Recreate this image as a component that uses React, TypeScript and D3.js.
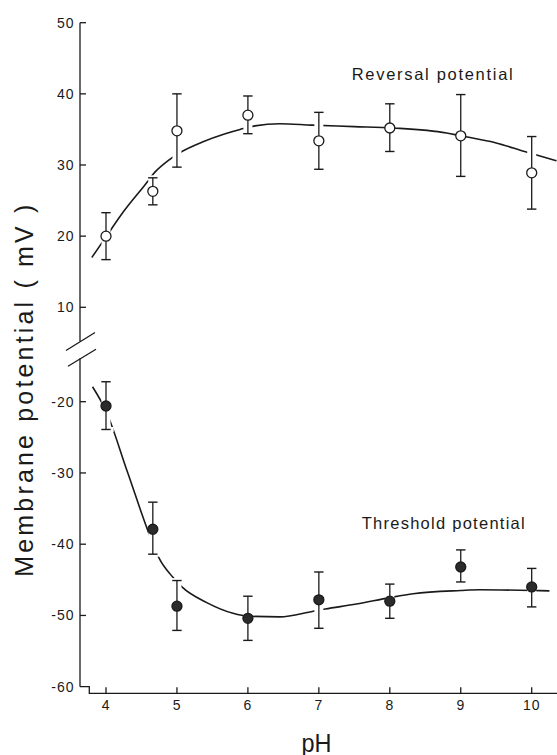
import React from "react";
import * as d3 from "d3";

// ---- data ----
const phPoints = [4, 4.66, 5, 6, 7, 8, 9, 10];

const reversal = [20.0, 26.3, 34.8, 37.0, 33.4, 35.2, 34.1, 28.9];
const reversalHi = [23.3, 28.2, 40.0, 39.7, 37.4, 38.6, 39.9, 34.0];
const reversalLo = [16.7, 24.4, 29.7, 34.4, 29.4, 31.9, 28.4, 23.8];

const threshold = [-20.6, -37.9, -48.7, -50.4, -47.8, -48.0, -43.2, -46.0];
const thresholdHi = [-17.2, -34.1, -45.1, -47.3, -43.9, -45.6, -40.8, -43.4];
const thresholdLo = [-23.9, -41.4, -52.1, -53.5, -51.8, -50.4, -45.3, -48.8];

// fitted curves
const reversalFitPh = [3.8, 4.0, 4.25, 4.54, 4.7, 4.88, 5.07, 5.35, 5.68, 5.89, 6.1, 6.45, 6.9, 7.5, 8.05, 8.8, 9.0, 9.5, 9.9, 10.35];
const reversalFit = [17.0, 19.9, 23.5, 27.1, 29.1, 30.65, 31.9, 33.2, 34.4, 35.0, 35.5, 35.8, 35.6, 35.4, 35.2, 34.5, 34.1, 33.1, 31.9, 30.6];

const thresholdFitPh = [3.81, 4.0, 4.3, 4.64, 4.75, 4.94, 5.07, 5.42, 5.79, 6.0, 6.45, 6.92, 7.09, 7.53, 8.0, 8.33, 9.0, 9.27, 10.02, 10.25];
const thresholdFit = [-17.9, -21.3, -29.8, -39.4, -42.0, -44.6, -46.0, -48.2, -49.7, -50.1, -50.2, -49.4, -49.1, -48.4, -47.5, -46.95, -46.5, -46.4, -46.5, -46.55];

const xTicks = [4, 5, 6, 7, 8, 9, 10];
const yTicksTop = [10, 20, 30, 40, 50];
const yTicksBottom = [-20, -30, -40, -50, -60];

const xLabel = "pH";
const yLabel = "Membrane potential ( mV )";
const reversalLabel = "Reversal potential";
const thresholdLabel = "Threshold potential";

export default function App() {
  const W = 557;
  const H = 755;
  const FONT = "'Liberation Sans', Arial, Helvetica, sans-serif";
  const ink = "#1a1a1a";

  const x = d3.scaleLinear().domain([4, 10]).range([106, 531.7]);
  const yTop = d3.scaleLinear().domain([10, 50]).range([307.3, 22.7]);
  const yBot = d3.scaleLinear().domain([-60, -20]).range([686.7, 401.7]);

  const axisX = 80;
  const xAxisY = 693.3;
  const xAxisStart = 89.3;
  const topBreak = yTop(5.2);
  const botBreak = yBot(-13.9);

  const line = (yScale: d3.ScaleLinear<number, number>) =>
    d3
      .line<[number, number]>()
      .x((d) => x(d[0]))
      .y((d) => yScale(d[1]))
      .curve(d3.curveMonotoneX);

  const revPath = line(yTop)(reversalFitPh.map((p, i) => [p, reversalFit[i]]) as [number, number][]) || "";
  const thrPath = line(yBot)(thresholdFitPh.map((p, i) => [p, thresholdFit[i]]) as [number, number][]) || "";

  const cap = 4.7;

  const errorBars = (
    vals: number[],
    hi: number[],
    lo: number[],
    yScale: d3.ScaleLinear<number, number>,
    filled: boolean,
    key: string
  ) =>
    phPoints.map((p, i) => {
      const cx = x(p);
      const yh = yScale(hi[i]);
      const yl = yScale(lo[i]);
      const cy = yScale(vals[i]);
      return (
        <g key={key + i}>
          {/* white halo so the fitted curve breaks around the bars */}
          <line x1={cx} x2={cx} y1={yh} y2={yl} stroke="#fff" strokeWidth={9} />
          <line x1={cx - cap - 3} x2={cx + cap + 3} y1={yh} y2={yh} stroke="#fff" strokeWidth={5} />
          <line x1={cx - cap - 3} x2={cx + cap + 3} y1={yl} y2={yl} stroke="#fff" strokeWidth={5} />
          <line x1={cx} x2={cx} y1={yh} y2={yl} stroke={ink} strokeWidth={1.3} />
          <line x1={cx - cap} x2={cx + cap} y1={yh} y2={yh} stroke={ink} strokeWidth={1.4} />
          <line x1={cx - cap} x2={cx + cap} y1={yl} y2={yl} stroke={ink} strokeWidth={1.4} />
          <circle
            cx={cx}
            cy={cy}
            r={5}
            fill={filled ? "#2b2b2b" : "#fff"}
            stroke={ink}
            strokeWidth={1.3}
          />
        </g>
      );
    });

  return (
    <svg
      width={W}
      height={H}
      viewBox={`0 0 ${W} ${H}`}
      style={{ position: "absolute", left: 0, top: 0, background: "#fff" }}
      fontFamily={FONT}
    >
      <rect x={0} y={0} width={W} height={H} fill="#fff" />

      {/* y axis (broken) */}
      <line x1={axisX} x2={axisX} y1={yTop(50)} y2={topBreak} stroke={ink} strokeWidth={1.3} />
      <line x1={axisX} x2={axisX} y1={botBreak} y2={yBot(-60)} stroke={ink} strokeWidth={1.3} />
      <line x1={axisX - 14} y1={topBreak + 9} x2={axisX + 15} y2={topBreak - 9} stroke={ink} strokeWidth={1.3} />
      <line x1={axisX - 12} y1={botBreak + 8} x2={axisX + 16} y2={botBreak - 9} stroke={ink} strokeWidth={1.3} />

      {yTicksTop.map((t) => (
        <g key={"yt" + t}>
          <line x1={axisX} x2={axisX + 6} y1={yTop(t)} y2={yTop(t)} stroke={ink} strokeWidth={1.3} />
          <text x={74.5} y={yTop(t)} dy="0.36em" textAnchor="end" fontSize={14} letterSpacing={1} fill={ink}>
            {t}
          </text>
        </g>
      ))}
      {yTicksBottom.map((t) => (
        <g key={"yb" + t}>
          {t !== -60 && (
            <line x1={axisX} x2={axisX + 6} y1={yBot(t)} y2={yBot(t)} stroke={ink} strokeWidth={1.3} />
          )}
          <text x={74.5} y={yBot(t)} dy="0.36em" textAnchor="end" fontSize={14} letterSpacing={1} fill={ink}>
            {String(t).replace("\u2212", "-")}
          </text>
        </g>
      ))}

      {/* x axis with the stepped corner */}
      <path
        d={`M${axisX},${yBot(-60)}H${xAxisStart}V${xAxisY}H${W}`}
        fill="none"
        stroke={ink}
        strokeWidth={1.3}
      />
      {xTicks.map((t) => (
        <g key={"xt" + t}>
          <line x1={x(t)} x2={x(t)} y1={xAxisY} y2={xAxisY - 6} stroke={ink} strokeWidth={1.3} />
          <text x={x(t)} y={709.5} textAnchor="middle" fontSize={14} letterSpacing={0.8} fill={ink}>
            {t}
          </text>
        </g>
      ))}

      {/* fitted curves */}
      <path d={revPath} fill="none" stroke={ink} strokeWidth={1.6} />
      <path d={thrPath} fill="none" stroke={ink} strokeWidth={1.6} />

      {/* data with error bars */}
      {errorBars(reversal, reversalHi, reversalLo, yTop, false, "r")}
      {errorBars(threshold, thresholdHi, thresholdLo, yBot, true, "t")}

      {/* series labels */}
      <text x={351.7} y={80} fontSize={16.5} textLength={161} lengthAdjust="spacing" fill={ink}>
        {reversalLabel}
      </text>
      <text x={361.7} y={529} fontSize={16.5} textLength={163} lengthAdjust="spacing" fill={ink}>
        {thresholdLabel}
      </text>

      {/* axis titles */}
      <text x={301.5} y={751.5} fontSize={25} textLength={30} lengthAdjust="spacingAndGlyphs" fill={ink}>
        {xLabel}
      </text>
      <text
        transform={`translate(33.3,576.7) rotate(-90)`}
        x={0}
        y={0}
        fontSize={25}
        textLength={372}
        lengthAdjust="spacing"
        fill={ink}
        xmlSpace="preserve"
      >
        {yLabel}
      </text>
    </svg>
  );
}
